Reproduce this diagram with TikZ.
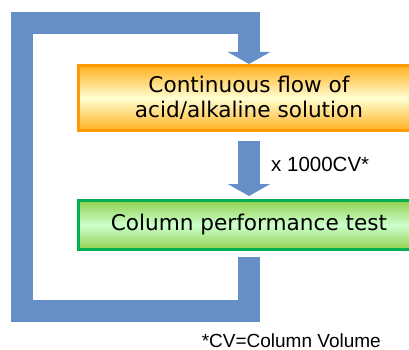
\documentclass[tikz,border=0pt]{standalone}
\usepackage{fontspec}
\setmainfont{DejaVu Sans}
\newfontfamily\arialfont{Liberation Sans}
\usepackage{tikz}
\usetikzlibrary{positioning,arrows.meta}

\definecolor{loopblue}{RGB}{101,143,198}
\definecolor{orangeline}{RGB}{255,153,0}
\definecolor{orangedark}{RGB}{255,176,32}
\definecolor{orangelight}{RGB}{255,255,210}
\definecolor{greenline}{RGB}{0,176,80}
\definecolor{greendark}{RGB}{146,208,80}
\definecolor{greenlight}{RGB}{204,255,204}

\begin{document}
\begin{tikzpicture}[
    x=1pt, y=-1pt,
    node distance=67pt,
    stage/.style={draw, line width=3pt, align=center, minimum width=341pt, inner sep=0pt, font=\fontsize{21.6}{25}\selectfont},
    flowbox/.style={stage, draw=orangeline, top color=orangedark, bottom color=orangedark, middle color=orangelight, minimum height=65pt},
    testbox/.style={stage, draw=greenline, top color=greendark, bottom color=greendark, middle color=greenlight, minimum height=49pt},
    bigarrow/.style={loopblue, line width=22pt, -{Triangle[width=42pt, length=12pt]}},
    note/.style={inner sep=0pt, text=black, font=\arialfont\fontsize{19}{22}\selectfont}
]
\useasboundingbox (0,0) rectangle (409,350);
\node[flowbox] (flow) at (249,98) {Continuous flow of\\acid/alkaline solution};
\node[testbox, below=of flow] (test) {Column performance test};
\coordinate[below=6pt of test] (loopstart);
% return loop
\draw[bigarrow] (loopstart) -- ++(0,54) -| (22,23.5) -| (flow.north);
% repeated cycles
\draw[bigarrow, shorten <=9pt, shorten >=3pt] (flow) -- (test);
\node[note, anchor=base west, font=\arialfont\fontsize{20.5}{24}\selectfont] (cvlabel) at (271,171.5) {x 1000CV*};
\node[note, anchor=base east] (cvnote) at (381,347) {*CV=Column Volume};
\end{tikzpicture}
\end{document}
